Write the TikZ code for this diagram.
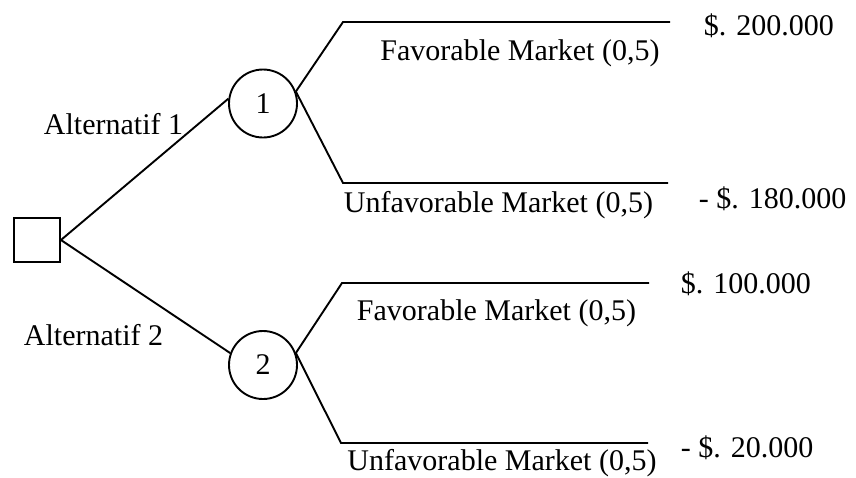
\documentclass[tikz,border=0pt]{standalone}
\usepackage{fontspec}
\setmainfont{Liberation Serif}
\begin{document}
\begin{tikzpicture}[x=1pt,y=-1pt,line width=1.9pt,
    every node/.style={font=\fontsize{30}{36}\selectfont},
    decision/.style={draw,minimum width=46pt,minimum height=44.5pt,inner sep=0pt},
    chance/.style={draw,circle,minimum size=68pt,inner sep=0pt},
    lbl/.style={inner sep=0pt}]
\useasboundingbox (0,0) rectangle (856,477);
    \node[decision] (D) at (37,240) {};
    \node[chance] (C1) at (263,103.5) {1};
    \node[chance] (C2) at (263,365) {2};
    \coordinate (K1) at (343,22);  \coordinate (E1) at (670,22);
    \coordinate (K2) at (343,183); \coordinate (E2) at (668,183);
    \coordinate (K3) at (342,283); \coordinate (E3) at (649,283);
    \coordinate (K4) at (341,443); \coordinate (E4) at (648,443);
    \draw (D.east) -- (C1.172);
    \draw (D.east) -- (C2.160);
    \draw (C1.20) -- (K1) -- (E1);
    \draw (C1.20) -- (K2) -- (E2);
    \draw (C2.20) -- (K3) -- (E3);
    \draw (C2.20) -- (K4) -- (E4);
    \node[lbl,anchor=base west] (A1) at (43,134) {Alternatif 1};
    \node[lbl,anchor=base west] (A2) at (23,345) {Alternatif 2};
    \node[lbl,anchor=base] (F1) at (520,60) {Favorable Market (0,5)};
    \node[lbl,anchor=base] (U1) at (498.5,212) {Unfavorable Market (0,5)};
    \node[lbl,anchor=base] (F2) at (496.5,320) {Favorable Market (0,5)};
    \node[lbl,anchor=base] (U2) at (502,470) {Unfavorable Market (0,5)};
    \node[lbl,anchor=base west] (V1) at (703,35) {\$. 200.000};
    \node[lbl,anchor=base west] (V2) at (698,208) {- \$. 180.000};
    \node[lbl,anchor=base west] (V3) at (680,293) {\$. 100.000};
    \node[lbl,anchor=base west] (V4) at (680,457) {- \$. 20.000};
\end{tikzpicture}
\end{document}
